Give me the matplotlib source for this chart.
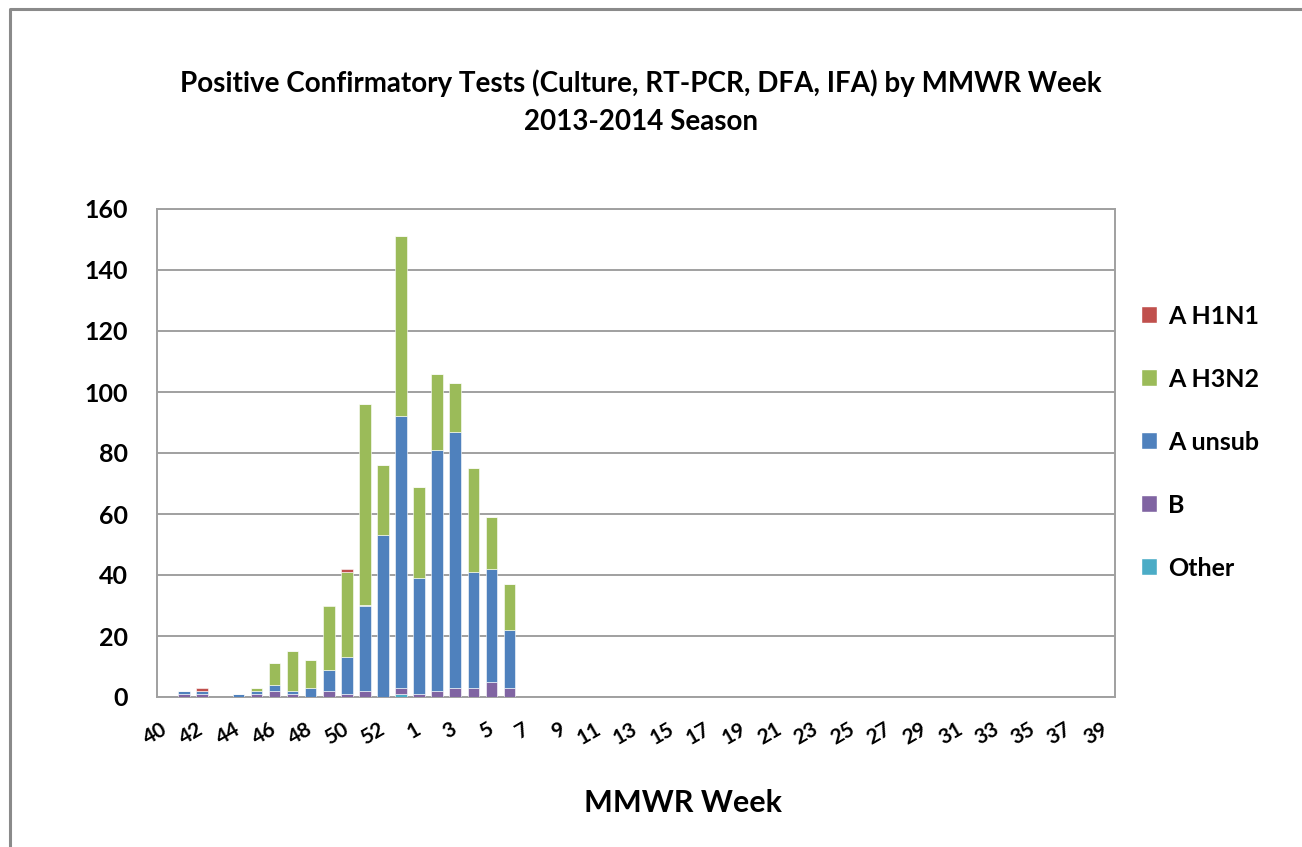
import matplotlib
matplotlib.use('Agg')
import matplotlib.pyplot as plt
from matplotlib.lines import Line2D
from matplotlib.patches import Patch
import numpy as np

plt.rcParams['font.family'] = ['Lato', 'DejaVu Sans']

# MMWR weeks shown on the axis (season runs week 40 through week 39)
weeks = [40, 41, 42, 43, 44, 45, 46, 47, 48, 49, 50, 51, 52, 53,
         1, 2, 3, 4, 5, 6, 7, 8, 9, 10, 11, 12, 13, 14, 15, 16, 17, 18, 19,
         20, 21, 22, 23, 24, 25, 26, 27, 28, 29, 30, 31, 32, 33, 34, 35, 36,
         37, 38, 39]

# weeks with positive tests and counts per type
report_weeks = [41, 42, 44, 45, 46, 47, 48, 49, 50, 51, 52, 53, 1, 2, 3, 4, 5, 6]
other   = [0, 0, 0, 0, 0, 0, 0, 0, 0, 0, 0, 1, 0, 0, 0, 0, 0, 0]
b       = [1, 1, 0, 1, 2, 1, 0, 2, 1, 2, 0, 2, 1, 2, 3, 3, 5, 3]
a_unsub = [1, 1, 1, 1, 2, 1, 3, 7, 12, 28, 53, 89, 38, 79, 84, 38, 37, 19]
a_h3n2  = [0, 0, 0, 1, 7, 13, 9, 21, 28, 66, 23, 59, 30, 25, 16, 34, 17, 15]
a_h1n1  = [0, 1, 0, 0, 0, 0, 0, 0, 1, 0, 0, 0, 0, 0, 0, 0, 0, 0]

series = [('Other', other, '#4BACC6'),
          ('B', b, '#8064A2'),
          ('A unsub', a_unsub, '#4F81BD'),
          ('A H3N2', a_h3n2, '#9BBB59'),
          ('A H1N1', a_h1n1, '#C0504D')]

x = np.array([weeks.index(w) for w in report_weeks])

fig = plt.figure(figsize=(13.02, 8.47), dpi=100)
ax = fig.add_axes([157 / 1302, 1 - 697 / 847, 958 / 1302, 488 / 847])

bottom = np.zeros(len(report_weeks))
for name, vals, col in series:
    vals = np.array(vals, dtype=float)
    ax.bar(x, vals, width=0.64, bottom=bottom, color=col,
           edgecolor='white', linewidth=0.4, zorder=3)
    bottom += vals

ax.set_xlim(-0.5, len(weeks) - 0.5)
ax.set_ylim(0, 160)
ax.set_yticks(range(0, 161, 20))
ax.yaxis.grid(True, color='#A0A0A0', linewidth=1.4, zorder=0)
ax.set_axisbelow(True)
for s in ax.spines.values():
    s.set_color('#A0A0A0')
    s.set_linewidth(1.4)
ax.tick_params(axis='both', length=0)
ax.tick_params(axis='y', pad=21)
for lab in ax.get_yticklabels():
    lab.set_fontsize(18)
    lab.set_fontweight('bold')

ax.set_xticks(range(0, len(weeks), 2))
ax.set_xticklabels([str(w) for w in weeks[::2]], rotation=30, ha='right',
                   va='center', rotation_mode='anchor', fontsize=15,
                   fontweight='bold')
ax.tick_params(axis='x', pad=22)

fig.text(641 / 1302, 1 - 83 / 847, 'Positive Confirmatory Tests (Culture, RT-PCR, DFA, IFA) by MMWR Week',
         ha='center', va='center', fontsize=20, fontweight='bold')
fig.text(641 / 1302, 1 - 122 / 847, '2013-2014 Season',
         ha='center', va='center', fontsize=20, fontweight='bold')
fig.text(683 / 1302, 1 - 803 / 847, 'MMWR Week', ha='center', va='center',
         fontsize=22, fontweight='bold')

handles = [Patch(facecolor=col, edgecolor='white', label=name)
           for name, vals, col in reversed(series)]
fig.legend(handles=handles, loc='center left',
           bbox_to_anchor=(1118 / 1302, 1 - 442 / 847), frameon=False,
           prop={'size': 18, 'weight': 'bold'}, labelspacing=1.6,
           handlelength=0.65, handleheight=0.65, handletextpad=0.45)

# outer chart frame (left and top edges visible)
fig.add_artist(Line2D([10 / 1302, 10 / 1302, 1.0], [0.0, 1 - 9 / 847, 1 - 9 / 847],
                      transform=fig.transFigure, color='#8A8A8A', linewidth=2.2))

fig.savefig('out.png', dpi=100)
